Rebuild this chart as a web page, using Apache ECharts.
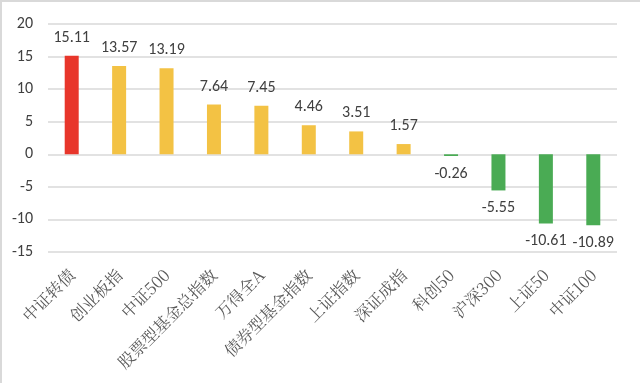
<!DOCTYPE html>
<html>
<head>
<meta charset="utf-8">
<script src="https://cdn.jsdelivr.net/npm/echarts@6/dist/echarts.min.js"></script>
<style>
html,body{margin:0;padding:0;background:#fff;}
#main{width:640px;height:383px;}
</style>
</head>
<body>
<div id="main"></div>
<script>
const categories = ['中证转债','创业板指','中证500','股票型基金总指数','万得全A','债券型基金指数','上证指数','深证成指','科创50','沪深300','上证50','中证100'];
const values = [15.11, 13.57, 13.19, 7.64, 7.45, 4.46, 3.51, 1.57, -0.26, -5.55, -10.61, -10.89];
const colors = ['#e8362b','#f3c244','#f3c244','#f3c244','#f3c244','#f3c244','#f3c244','#f3c244','#4aab54','#4aab54','#4aab54','#4aab54'];

const chart = echarts.init(document.getElementById('main'));
chart.setOption({
  backgroundColor: '#fff',
  animation: false,
  graphic: [
    {type:'rect', shape:{x:0,y:0,width:2,height:383}, style:{fill:'#d9d9d9'}},
    {type:'rect', shape:{x:0,y:0,width:640,height:2}, style:{fill:'#d9d9d9'}}
  ],
  grid: {left: 48, right: 23, top: 24, bottom: 131, containLabel: false},
  xAxis: {
    type: 'category',
    data: categories,
    axisLine: {show: false, onZero: false},
    axisTick: {show: false},
    axisLabel: {
      rotate: 45,
      interval: 0,
      margin: 20,
      color: '#595959',
      fontSize: 16.5,
      fontFamily: '"Noto Serif CJK SC","Noto Sans CJK SC",serif'
    }
  },
  yAxis: {
    type: 'value',
    min: -15,
    max: 20,
    interval: 5,
    axisLine: {show: false},
    axisTick: {show: false},
    axisLabel: {color: '#404040', fontSize: 16, margin: 15, fontFamily: 'Calibri, Carlito, "Open Sans", sans-serif'},
    splitLine: {lineStyle: {color: '#d9d9d9', width: 1.5}}
  },
  series: [{
    type: 'bar',
    data: values.map((v, i) => ({value: v, itemStyle: {color: colors[i]}, label: {position: v >= 0 ? 'top' : 'bottom'}})),
    barWidth: 14,
    label: {
      show: true,
      distance: 10,
      color: '#404040',
      fontSize: 16,
      fontFamily: 'Calibri, Carlito, "Open Sans", sans-serif'
    }
  }]
});
</script>
</body>
</html>
